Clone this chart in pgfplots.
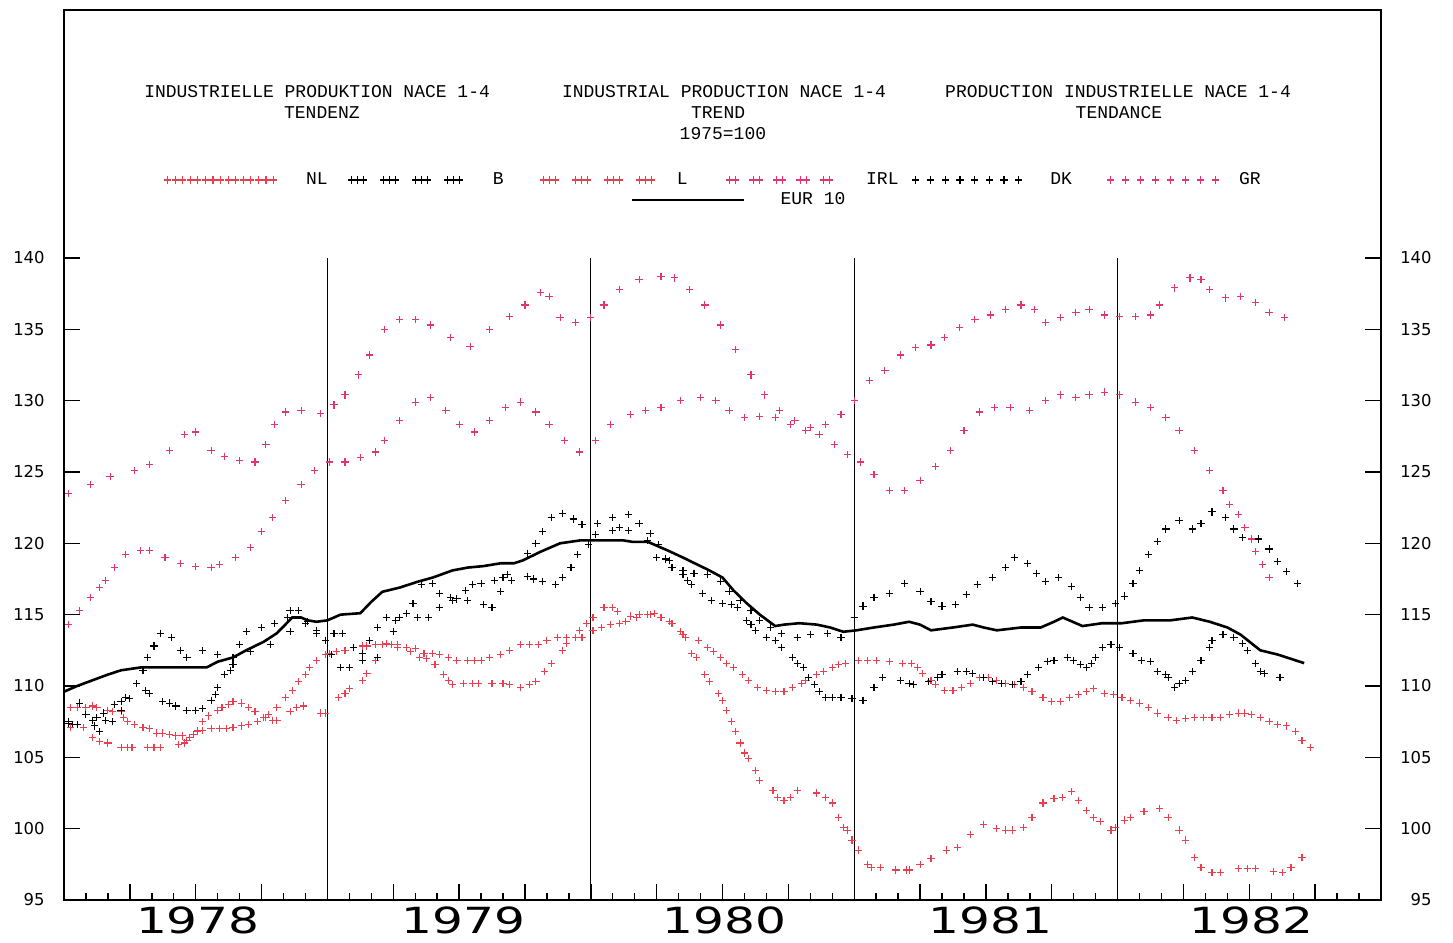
\documentclass[border=0pt]{standalone}
\usepackage{fontspec}
\setmainfont{DejaVu Sans}
\newfontfamily\plotfont{Liberation Mono}
\usepackage{graphicx}
\usepackage{pgfplots}
\pgfplotsset{compat=1.18}

\definecolor{pinkA}{RGB}{228,52,112}
\definecolor{pinkB}{RGB}{232,62,78}

\newcommand{\legfont}{\plotfont\fontsize{9}{10}\selectfont}
\newcommand{\numfont}{\fontsize{8.2}{9}\selectfont}
\newcommand{\yearlbl}[1]{\scalebox{1.35}[1]{\fontsize{18}{19}\selectfont #1}}

\pgfplotsset{
  mk/.style={only marks, mark=+, mark size=1.8pt, line width=0.55pt},
  legNL/.style={legend image code/.code={\draw[##1,only marks] plot coordinates {(0pt,0pt) (3.8pt,0pt) (7.6pt,0pt) (11.4pt,0pt) (15.1pt,0pt) (18.9pt,0pt) (22.7pt,0pt) (26.5pt,0pt) (30.3pt,0pt) (34.1pt,0pt) (37.9pt,0pt) (41.6pt,0pt) (45.4pt,0pt) (49.2pt,0pt) (53pt,0pt)};}},
  legThree/.style={legend image code/.code={\draw[##1,only marks] plot coordinates {(0pt,0pt) (3pt,0pt) (6pt,0pt) (16pt,0pt) (19pt,0pt) (22pt,0pt) (32pt,0pt) (35pt,0pt) (38pt,0pt) (48pt,0pt) (51pt,0pt) (54pt,0pt)};}},
  legTwo/.style={legend image code/.code={\draw[##1,only marks] plot coordinates {(0pt,0pt) (3pt,0pt) (11.75pt,0pt) (14.75pt,0pt) (23.5pt,0pt) (26.5pt,0pt) (35.25pt,0pt) (38.25pt,0pt) (47pt,0pt) (50pt,0pt)};}},
  legDK/.style={legend image code/.code={\draw[##1,only marks] plot coordinates {(0pt,0pt) (7.4pt,0pt) (14.7pt,0pt) (22.1pt,0pt) (29.4pt,0pt) (36.8pt,0pt) (44.1pt,0pt) (51.5pt,0pt)};}},
  legGR/.style={legend image code/.code={\draw[##1,only marks] plot coordinates {(0pt,0pt) (7.5pt,0pt) (15pt,0pt) (22.5pt,0pt) (30pt,0pt) (37.5pt,0pt) (45pt,0pt) (52.5pt,0pt)};}},
  legEUR/.style={legend image code/.code={\draw[##1] (0pt,0pt) -- (56pt,0pt);}},
}

\begin{document}
\begin{tikzpicture}
\begin{axis}[name=ax,
  scale only axis, width=658.5pt, height=445pt,
  xmin=0, xmax=60, ymin=95, ymax=157.38,
  clip=false,
  axis line style={line width=1.1pt},
  xtick={0,3,...,60}, minor x tick num=2, xticklabels={}, xtick pos=left,
  ytick={95,100,...,140}, ytick pos=both, yticklabel pos=left,
  tick align=inside, major tick length=8pt, minor tick length=3.5pt,
  tick style={black, line width=0.7pt},
  yticklabel style={font=\numfont, inner sep=0pt, xshift=-9.5pt},
  /pgf/number format/assume math mode=true,
  legend columns=6,
  legend style={draw=none, fill=none, inner sep=0pt, outer sep=0pt,
    at={(0.0759,0.809)}, anchor=west, font=\legfont,
    nodes={inner sep=0pt}, cells={anchor=west},
    /tikz/column 1/.style={column sep=14.5pt},
    /tikz/column 2/.style={column sep=10pt},
    /tikz/column 3/.style={column sep=15pt},
    /tikz/column 4/.style={column sep=18pt},
    /tikz/column 5/.style={column sep=11pt},
    /tikz/column 6/.style={column sep=19.1pt},
    /tikz/column 7/.style={column sep=16.5pt},
    /tikz/column 8/.style={column sep=6.8pt},
    /tikz/column 9/.style={column sep=14pt},
    /tikz/column 10/.style={column sep=17.5pt},
    /tikz/column 11/.style={column sep=10pt}},
]

% NL
\addplot[mk, color=pinkB, legNL] coordinates {
(0.3,108.5) (0.6,108.5) (1.0,108.5) (1.3,108.6) (1.5,108.5) (2.0,108.3) (2.2,108.2) (2.6,108.2) (2.7,107.8) (2.9,107.5)
(3.2,107.3) (3.6,107.1) (3.9,107.0) (4.2,106.7) (4.5,106.7) (4.8,106.6) (5.1,106.5) (5.4,106.5) (5.7,106.4) (6.1,106.8)
(6.3,106.9) (6.7,107.0) (7.1,107.0) (7.4,107.0) (7.7,107.1) (8.1,107.2) (8.4,107.3) (8.8,107.5) (9.1,107.8) (9.3,108.0)
(9.7,108.5) (10.1,109.2) (10.4,109.7) (10.7,110.3) (11.0,110.8) (11.2,111.3) (11.5,111.8) (11.9,112.2) (12.1,112.3) (12.4,112.4)
(12.8,112.5) (13.2,112.7) (13.6,112.8) (13.8,112.8) (14.2,112.9) (14.5,112.9) (14.9,112.9) (15.2,112.9) (15.6,112.7) (16.0,112.6)
(16.4,112.3) (16.8,112.3) (17.1,112.2) (17.5,112.0) (17.9,111.8) (18.4,111.8) (18.7,111.8) (19.0,111.8) (19.4,112.0) (19.9,112.2)
(20.3,112.5) (20.8,112.9) (21.2,112.9) (21.6,112.9) (22.0,113.2) (22.5,113.4) (22.9,113.4) (23.3,113.4) (23.6,113.4) (24.1,113.9)
(24.5,114.1) (24.9,114.3) (25.3,114.4) (25.6,114.5) (26.1,114.8) (26.6,115.0) (26.9,115.1) (27.2,114.8) (27.6,114.5) (28.1,113.8)
(28.3,113.4) (28.9,113.2) (29.3,112.7) (29.6,112.4) (29.9,112.0) (30.2,111.6) (30.5,111.3) (30.9,110.8) (31.2,110.4) (31.6,109.9)
(32.0,109.7) (32.4,109.6) (32.8,109.6) (33.2,109.9) (33.6,110.2) (33.8,110.4) (34.3,110.8) (34.6,111.0) (35.0,111.3) (35.3,111.5)
(35.6,111.6) (36.2,111.8) (36.6,111.8) (37.0,111.8) (37.6,111.7) (38.2,111.6) (38.6,111.6) (38.9,111.3) (39.1,110.9) (39.5,110.4)
(39.7,110.1) (40.1,109.7) (40.5,109.7) (40.9,109.9) (41.3,110.2) (41.7,110.6) (42.1,110.6) (42.5,110.4) (42.9,110.2) (43.3,110.1)
(43.7,109.9) (44.1,109.6) (44.6,109.2) (45.0,108.9) (45.4,108.9) (45.8,109.2) (46.2,109.4) (46.6,109.6) (46.9,109.8) (47.4,109.5)
(47.8,109.4) (48.2,109.2) (48.6,109.0) (49.0,108.8) (49.4,108.5) (49.8,108.1) (50.3,107.8) (50.7,107.6) (51.1,107.7) (51.5,107.8)
(51.9,107.8) (52.3,107.8) (52.7,107.8) (53.1,108.0) (53.5,108.1) (53.8,108.1) (54.1,108.0) (54.5,107.8) (54.9,107.5) (55.3,107.3)
(55.7,107.2) (56.1,106.8) (56.4,106.2) (56.8,105.7)
};
\addlegendentry{NL}

% B
\addplot[mk, color=black, legThree] coordinates {
(0.2,107.4) (0.4,107.3) (0.6,107.3) (1.0,108.0) (1.3,107.6) (1.4,107.2) (1.6,106.8) (1.9,107.6) (2.3,108.7) (2.6,108.9)
(2.8,109.2) (3.3,110.2) (3.7,109.7) (3.9,109.5) (4.5,108.9) (4.8,108.8) (5.1,108.6) (5.6,108.3) (6.0,108.3) (6.3,108.4)
(6.7,109.0) (6.9,109.4) (7.0,109.9) (7.3,110.8) (7.6,111.1) (7.7,111.5) (8.0,112.9) (8.3,113.8) (9.0,114.1) (9.6,114.4)
(10.2,114.8) (10.3,115.3) (10.7,115.3) (11.1,114.5) (11.5,113.7) (11.9,113.2) (12.3,113.7) (12.7,113.7) (13.2,112.7) (13.6,112.3)
(13.9,113.2) (14.3,114.1) (14.7,114.8) (15.1,114.6) (15.3,114.8) (15.6,115.1) (16.1,114.8) (16.6,114.8) (17.1,115.5) (17.6,116.2)
(17.9,116.1) (18.3,116.7) (18.6,117.1) (19.0,117.2) (19.6,117.4) (20.0,117.6) (20.2,117.8) (21.1,119.3) (21.5,120.0) (21.8,120.8)
(22.2,121.8) (22.7,122.1) (23.2,121.7) (23.6,121.3) (24.3,121.4) (25.0,121.8) (25.7,122.0) (26.2,121.4) (26.6,120.2) (27.0,119.0)
(27.4,118.9) (27.7,118.3) (28.2,117.8) (28.4,117.4) (28.6,117.1) (29.1,116.5) (29.5,116.0) (30.0,115.8) (30.4,115.7) (30.7,115.5)
(31.1,114.6) (31.3,114.3) (31.5,113.9) (32.0,113.4) (32.4,113.2) (32.7,112.7) (33.2,112.0) (33.4,111.6) (33.7,111.3) (33.9,110.6)
(34.2,110.1) (34.4,109.6) (34.7,109.2) (35.0,109.2) (35.4,109.2) (35.9,109.1) (36.4,109.0) (36.9,109.9) (37.3,110.6) (38.1,110.4)
(38.5,110.2) (38.7,110.1) (39.4,110.3) (39.8,110.6) (40.0,110.8) (40.7,111.0) (41.1,111.0) (41.4,110.9) (41.9,110.6) (42.3,110.3)
(42.7,110.2) (43.2,110.1) (43.6,110.3) (43.9,110.8) (44.4,111.3) (44.8,111.7) (45.1,111.8) (45.7,112.0) (46.0,111.8) (46.3,111.5)
(46.6,111.3) (46.8,111.6) (47.0,112.0) (47.3,112.7) (47.7,112.9) (48.1,112.7) (48.7,112.3) (49.1,111.8) (49.5,111.7) (49.8,111.0)
(50.2,110.8) (50.3,110.6) (50.6,109.9) (50.8,110.2) (51.1,110.4) (51.4,111.0) (51.8,111.8) (52.2,112.7) (52.3,113.2) (52.8,113.6)
(53.3,113.4) (53.7,113.0) (53.9,112.5) (54.3,111.6) (54.5,111.0) (54.7,110.9) (55.4,110.6)
};
\addlegendentry{B}

% L
\addplot[mk, color=pinkB, legThree] coordinates {
(0.3,107.1) (0.9,107.1) (1.3,106.4) (1.6,106.1) (2.0,106.0) (2.6,105.7) (2.9,105.7) (3.1,105.7) (3.8,105.7) (4.1,105.7)
(4.4,105.7) (5.2,105.9) (5.5,106.0) (5.6,106.2) (5.9,106.6) (6.1,106.9) (6.3,107.5) (6.6,107.9) (7.0,108.3) (7.2,108.5)
(7.5,108.7) (7.7,108.9) (8.1,108.8) (8.4,108.5) (8.7,108.2) (9.2,107.8) (9.5,107.6) (9.7,107.6) (10.3,108.2) (10.6,108.5)
(10.9,108.6) (11.7,108.1) (11.9,108.1) (12.5,109.2) (12.8,109.5) (13.0,109.8) (13.6,110.4) (13.8,110.9) (14.2,111.8) (14.5,112.9)
(14.7,113.0) (15.2,112.7) (15.8,112.4) (16.2,112.0) (16.5,111.9) (16.9,111.5) (17.3,110.8) (17.5,110.4) (17.7,110.1) (18.2,110.2)
(18.6,110.2) (18.9,110.2) (19.5,110.2) (20.0,110.2) (20.3,110.1) (20.8,109.9) (21.2,110.1) (21.5,110.3) (21.9,111.0) (22.2,111.6)
(22.7,112.5) (22.9,113.0) (23.5,113.9) (23.8,114.4) (24.1,114.8) (24.6,115.5) (25.0,115.5) (25.2,115.2) (25.8,114.9) (26.2,115.0)
(26.7,115.0) (27.2,114.8) (27.7,114.4) (28.2,113.6) (28.6,112.3) (28.8,112.0) (29.2,110.8) (29.4,110.3) (29.8,109.5) (30.0,109.0)
(30.2,108.3) (30.4,107.5) (30.6,106.8) (30.8,106.0) (31.0,105.3) (31.2,104.9) (31.5,104.1) (31.7,103.4) (32.3,102.7) (32.5,102.2)
(32.8,102.0) (33.1,102.2) (33.4,102.7) (34.3,102.5) (34.7,102.2) (35.0,101.8) (35.3,100.8) (35.5,100.1) (35.7,99.9) (35.9,99.2)
(36.2,98.5) (36.6,97.5) (36.8,97.3) (37.2,97.3) (37.9,97.1) (38.4,97.1) (38.5,97.1) (39.0,97.5) (39.5,97.9) (40.2,98.5)
(40.7,98.7) (41.3,99.6) (41.9,100.3) (42.5,100.0) (42.9,99.9) (43.2,99.9) (43.7,100.1) (44.1,100.8) (44.6,101.8) (45.1,102.1)
(45.5,102.2) (45.9,102.6) (46.2,102.0) (46.6,101.3) (46.9,100.8) (47.2,100.5) (47.7,99.9) (47.9,100.1) (48.3,100.6) (48.6,100.8)
(49.2,101.2) (49.9,101.4) (50.3,100.8) (50.8,99.9) (51.1,99.2) (51.5,98.0) (51.8,97.3) (52.3,96.9) (52.7,96.9) (53.5,97.2)
(53.9,97.2) (54.3,97.2) (55.1,97.0) (55.5,96.9) (55.9,97.3) (56.4,98.0)
};
\addlegendentry{L}

% IRL
\addplot[mk, color=pinkA, legTwo] coordinates {
(0.2,123.5) (1.2,124.1) (2.1,124.7) (3.2,125.1) (3.9,125.5) (4.8,126.5) (5.5,127.6) (6.0,127.8) (6.7,126.5) (7.3,126.1)
(8.0,125.8) (8.7,125.7) (9.2,126.9) (9.6,128.3) (10.1,129.2) (10.8,129.3) (11.7,129.1) (12.3,129.7) (12.8,130.4) (13.4,131.8)
(13.9,133.2) (14.6,135.0) (15.3,135.7) (16.0,135.7) (16.7,135.3) (17.6,134.4) (18.5,133.8) (19.4,135.0) (20.3,135.9) (21.0,136.7)
(21.7,137.6) (22.1,137.3) (22.6,135.8) (23.3,135.5) (24.0,135.8) (24.6,136.7) (25.3,137.8) (26.2,138.5) (27.2,138.7) (27.8,138.6)
(28.5,137.8) (29.2,136.7) (29.9,135.3) (30.6,133.6) (31.3,131.8) (31.9,130.4) (32.6,129.3) (33.3,128.6) (34.0,128.1) (34.7,128.3)
(35.4,129.0) (36.0,130.0) (36.7,131.4) (37.4,132.1) (38.1,133.2) (38.8,133.7) (39.5,133.9) (40.1,134.4) (40.8,135.1) (41.5,135.7)
(42.2,136.0) (42.9,136.4) (43.6,136.7) (44.2,136.4) (44.7,135.5) (45.4,135.8) (46.1,136.2) (46.7,136.4) (47.4,136.0) (48.1,135.9)
(48.8,135.9) (49.5,136.0) (49.9,136.7) (50.6,137.9) (51.3,138.6) (51.8,138.5) (52.2,137.8) (52.9,137.2) (53.6,137.3) (54.3,136.9)
(54.9,136.2) (55.6,135.8)
};
\addlegendentry{IRL}

% DK
\addplot[mk, color=black, legDK] coordinates {
(0.2,107.5) (0.7,108.8) (1.5,107.8) (1.8,108.1) (2.2,107.5) (2.6,108.3) (3.0,109.1) (3.6,111.1) (3.8,112.0) (4.1,112.8)
(4.4,113.7) (4.9,113.4) (5.3,112.5) (5.6,112.0) (6.3,112.5) (7.0,112.2) (7.7,112.0) (8.5,112.4) (9.4,112.9) (10.3,113.8)
(11.0,114.4) (11.5,113.9) (12.2,112.2) (12.6,111.3) (13.0,111.3) (13.6,111.8) (14.3,112.0) (15.0,113.8) (15.9,115.8) (16.3,117.1)
(16.8,117.2) (17.1,116.5) (17.7,116.0) (18.4,116.0) (19.1,115.7) (19.5,115.5) (19.9,116.6) (20.4,117.4) (21.1,117.7) (21.4,117.5)
(21.8,117.3) (22.4,117.1) (22.7,117.6) (23.1,118.3) (23.4,119.2) (23.9,119.9) (24.2,120.6) (25.0,120.9) (25.3,121.1) (25.7,120.9)
(26.7,120.7) (27.1,119.9) (27.6,118.8) (28.2,118.1) (28.7,117.9) (29.3,117.8) (29.9,117.3) (30.3,116.6) (30.8,116.0) (31.3,115.3)
(31.7,114.6) (32.2,114.1) (32.7,113.7) (33.4,113.4) (34.0,113.6) (34.8,113.7) (35.4,113.4) (36.0,114.8) (36.4,115.6) (36.9,116.2)
(37.6,116.5) (38.3,117.2) (39.0,116.6) (39.5,115.9) (40.0,115.6) (40.6,115.7) (41.1,116.4) (41.6,117.1) (42.3,117.6) (42.9,118.3)
(43.3,119.0) (43.9,118.6) (44.3,117.9) (44.7,117.3) (45.3,117.6) (45.9,117.0) (46.3,116.2) (46.7,115.5) (47.3,115.5) (47.9,115.8)
(48.3,116.3) (48.7,117.2) (49.0,118.1) (49.4,119.2) (49.8,120.1) (50.2,121.0) (50.8,121.6) (51.4,121.0) (51.8,121.4) (52.3,122.2)
(52.9,121.8) (53.3,121.0) (53.7,120.4) (54.4,120.3) (54.9,119.6) (55.3,118.7) (55.7,118.0) (56.2,117.2)
};
\addlegendentry{DK}

% GR
\addplot[mk, color=pinkA, legGR] coordinates {
(0.2,114.3) (0.7,115.3) (1.2,116.2) (1.6,116.9) (1.9,117.4) (2.3,118.3) (2.8,119.2) (3.5,119.5) (3.9,119.5) (4.6,119.0)
(5.3,118.6) (6.0,118.4) (6.7,118.3) (7.1,118.5) (7.8,119.0) (8.5,119.7) (9.0,120.8) (9.5,121.8) (10.1,123.0) (10.8,124.1)
(11.4,125.1) (12.1,125.7) (12.8,125.7) (13.5,126.0) (14.2,126.4) (14.6,127.2) (15.3,128.6) (16.0,129.9) (16.7,130.2) (17.4,129.3)
(18.0,128.3) (18.7,127.8) (19.4,128.6) (20.1,129.5) (20.8,129.9) (21.5,129.2) (22.1,128.3) (22.8,127.2) (23.5,126.4) (24.2,127.2)
(24.9,128.3) (25.8,129.0) (26.5,129.3) (27.2,129.5) (28.1,130.0) (29.0,130.2) (29.7,130.0) (30.3,129.3) (31.0,128.8) (31.7,128.9)
(32.4,128.8) (33.1,128.3) (33.8,127.9) (34.4,127.6) (35.1,126.9) (35.7,126.2) (36.3,125.7) (36.9,124.8) (37.6,123.7) (38.3,123.7)
(39.0,124.4) (39.7,125.4) (40.4,126.5) (41.0,127.9) (41.7,129.2) (42.4,129.5) (43.1,129.5) (44.0,129.3) (44.7,130.0) (45.4,130.4)
(46.1,130.2) (46.7,130.4) (47.4,130.6) (48.1,130.4) (48.8,129.9) (49.5,129.5) (50.2,128.8) (50.8,127.9) (51.5,126.5) (52.2,125.1)
(52.8,123.7) (53.1,122.7) (53.5,122.0) (53.8,121.1) (54.1,120.3) (54.3,119.4) (54.6,118.5) (54.9,117.6)
};
\addlegendentry{GR}

% EUR 10
\addplot[black, line width=1.3pt, forget plot] coordinates {
(0,109.6) (0.6,110.0) (1.3,110.4) (2.0,110.8) (2.6,111.1) (3.5,111.3) (4.4,111.3) (5.1,111.3) (5.9,111.3) (6.5,111.3)
(7.0,111.7) (7.7,112.0) (8.3,112.5) (9.1,113.1) (9.7,113.7) (10.4,114.8) (10.8,114.8) (11.1,114.6) (11.5,114.5) (12.0,114.6)
(12.6,115.0) (13.5,115.1) (14.0,115.9) (14.5,116.6) (15.3,116.9) (16.1,117.3) (16.8,117.6) (17.7,118.1) (18.4,118.3) (19.1,118.4)
(19.9,118.6) (20.5,118.6) (20.9,118.8) (21.7,119.4) (22.6,120.0) (23.5,120.2) (24.1,120.2) (25.5,120.2) (25.9,120.1) (26.6,120.1)
(27.5,119.5) (28.2,119.0) (29.4,118.1) (30.0,117.6) (30.5,116.7) (31.1,115.8) (31.7,115.0) (32.4,114.2) (32.8,114.3) (33.5,114.4)
(34.3,114.3) (34.9,114.1) (35.5,113.8) (36.1,113.9) (36.9,114.1) (37.8,114.3) (38.5,114.5) (39.0,114.3) (39.5,113.9) (40.5,114.1)
(41.4,114.3) (41.9,114.1) (42.5,113.9) (43.6,114.1) (44.5,114.1) (45.1,114.5) (45.5,114.8) (46.4,114.2) (47.3,114.4) (48.2,114.4)
(49.2,114.6) (50.4,114.6) (51.4,114.8) (52.2,114.5) (53.0,114.1) (53.6,113.6) (54.5,112.5) (55.3,112.2) (55.9,111.9) (56.5,111.6)
};

% year boundaries
\draw[line width=0.6pt] (axis cs:12,95) -- (axis cs:12,140);
\draw[line width=0.6pt] (axis cs:24,95) -- (axis cs:24,140);
\draw[line width=0.6pt] (axis cs:36,95) -- (axis cs:36,140);
\draw[line width=0.6pt] (axis cs:48,95) -- (axis cs:48,140);

% right-hand tick labels
\pgfplotsinvokeforeach{95,100,...,140}{
  \node[anchor=east, inner sep=0pt, font=\numfont] at ([xshift=25.5pt]axis cs:60,#1) {#1};
}

% year labels
\node[anchor=base, inner sep=0pt] at (axis cs:6.1,92.65) {\yearlbl{1978}};
\node[anchor=base, inner sep=0pt] at (axis cs:18.2,92.65) {\yearlbl{1979}};
\node[anchor=base, inner sep=0pt] at (axis cs:30.1,92.65) {\yearlbl{1980}};
\node[anchor=base, inner sep=0pt] at (axis cs:42.2,92.65) {\yearlbl{1981}};
\node[anchor=base, inner sep=0pt] at (axis cs:54.1,92.65) {\yearlbl{1982}};

% titles
\node[font=\legfont] at (axis cs:11.53,151.64) {INDUSTRIELLE PRODUKTION NACE 1-4};
\node[font=\legfont] at (axis cs:11.75,150.17) {TENDENZ};
\node[font=\legfont] at (axis cs:30.07,151.64) {INDUSTRIAL PRODUCTION NACE 1-4};
\node[font=\legfont] at (axis cs:29.8,150.17) {TREND};
\node[font=\legfont] at (axis cs:30.02,148.69) {1975=100};
\node[font=\legfont] at (axis cs:48.02,151.64) {PRODUCTION INDUSTRIELLE NACE 1-4};
\node[font=\legfont] at (axis cs:48.06,150.17) {TENDANCE};
\end{axis}

% second legend row: EUR 10
\begin{axis}[scale only axis, width=658.5pt, height=445pt,
  xmin=0, xmax=60, ymin=95, ymax=157.38, hide axis,
  legend style={draw=none, fill=none, inner sep=0pt, outer sep=0pt,
    at={(0.4305,0.7865)}, anchor=west, font=\legfont,
    nodes={inner sep=0pt}, cells={anchor=west},
    /tikz/column 1/.style={column sep=17.5pt}}]
\addlegendimage{black, line width=1.3pt, legEUR}
\addlegendentry{EUR 10}
\end{axis}

\pgfresetboundingbox
\path[use as bounding box] ([shift={(-32pt,-21.5pt)}]ax.south west) rectangle ([shift={(36pt,5pt)}]ax.north east);
\end{tikzpicture}
\end{document}
